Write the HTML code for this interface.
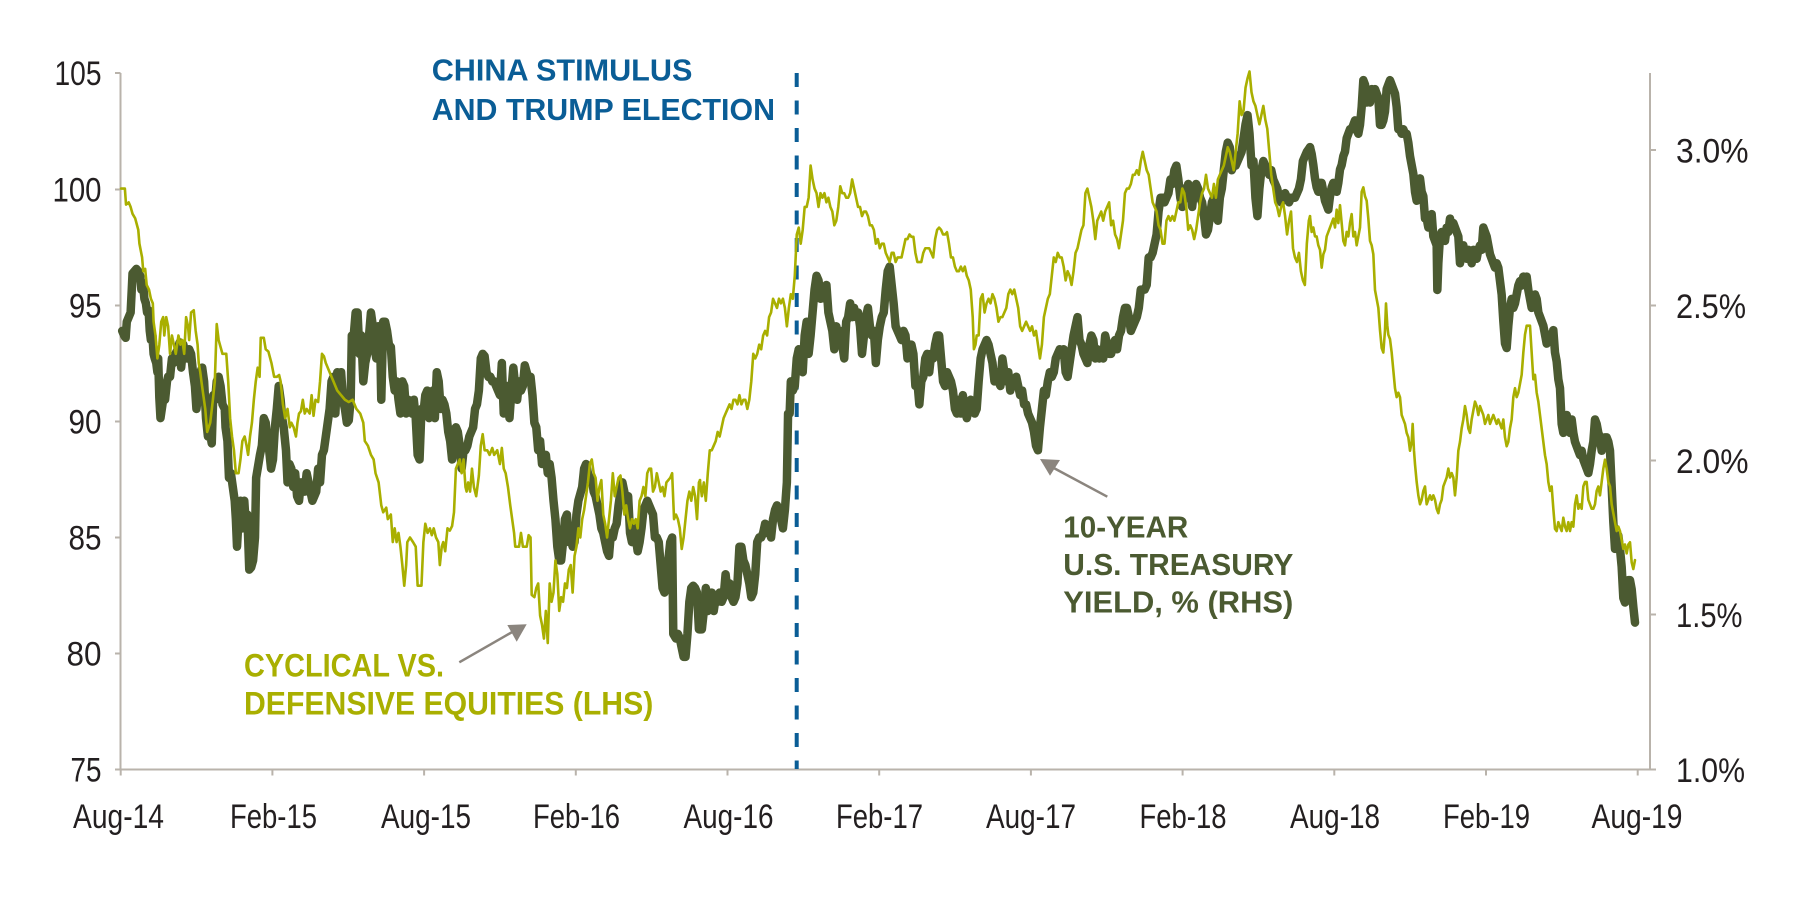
<!DOCTYPE html>
<html>
<head>
<meta charset="utf-8">
<style>
  html,body{margin:0;padding:0;background:#fff;}
  svg{display:block;}
  .tick{font-family:"Liberation Sans",sans-serif;font-size:34px;fill:#231f20;}
  .ann{font-family:"Liberation Sans",sans-serif;font-weight:bold;font-size:31px;}
  .yl{fill:none;stroke:#a9af00;stroke-width:2.6;stroke-linejoin:round;stroke-linecap:round;}
  .dk{fill:none;stroke:#4b5a31;stroke-width:8.5;stroke-linejoin:round;stroke-linecap:round;}
</style>
</head>
<body>
<svg width="1800" height="900" viewBox="0 0 1800 900" xmlns="http://www.w3.org/2000/svg">
  <rect x="0" y="0" width="1800" height="900" fill="#fff"/>

  <!-- axes -->
  <g stroke="#b9b3ab" stroke-width="2" fill="none">
    <line x1="120.5" y1="73" x2="120.5" y2="770"/>
    <line x1="1650" y1="73" x2="1650" y2="770"/>
    <line x1="120" y1="769.5" x2="1650" y2="769.5"/>
    <!-- left ticks -->
    <line x1="115" y1="73" x2="120.5" y2="73"/>
    <line x1="115" y1="189.5" x2="120.5" y2="189.5"/>
    <line x1="115" y1="305.5" x2="120.5" y2="305.5"/>
    <line x1="115" y1="421.5" x2="120.5" y2="421.5"/>
    <line x1="115" y1="537.5" x2="120.5" y2="537.5"/>
    <line x1="115" y1="653.5" x2="120.5" y2="653.5"/>
    <line x1="115" y1="769.5" x2="120.5" y2="769.5"/>
    <!-- right ticks -->
    <line x1="1650" y1="150" x2="1656" y2="150"/>
    <line x1="1650" y1="305.5" x2="1656" y2="305.5"/>
    <line x1="1650" y1="460.5" x2="1656" y2="460.5"/>
    <line x1="1650" y1="614.5" x2="1656" y2="614.5"/>
    <line x1="1650" y1="769.5" x2="1656" y2="769.5"/>
    <!-- bottom ticks -->
    <line x1="120.7" y1="769.5" x2="120.7" y2="775.5"/>
    <line x1="272.4" y1="769.5" x2="272.4" y2="775.5"/>
    <line x1="424.1" y1="769.5" x2="424.1" y2="775.5"/>
    <line x1="575.8" y1="769.5" x2="575.8" y2="775.5"/>
    <line x1="727.5" y1="769.5" x2="727.5" y2="775.5"/>
    <line x1="879.2" y1="769.5" x2="879.2" y2="775.5"/>
    <line x1="1030.9" y1="769.5" x2="1030.9" y2="775.5"/>
    <line x1="1182.6" y1="769.5" x2="1182.6" y2="775.5"/>
    <line x1="1334.3" y1="769.5" x2="1334.3" y2="775.5"/>
    <line x1="1486" y1="769.5" x2="1486" y2="775.5"/>
    <line x1="1637.7" y1="769.5" x2="1637.7" y2="775.5"/>
  </g>

  <!-- left labels -->
  <g class="tick" text-anchor="end">
    <text x="101.5" y="85" textLength="47" lengthAdjust="spacingAndGlyphs">105</text>
    <text x="101.5" y="201.5" textLength="49" lengthAdjust="spacingAndGlyphs">100</text>
    <text x="101.5" y="317.5" textLength="32.5" lengthAdjust="spacingAndGlyphs">95</text>
    <text x="101.5" y="433.5" textLength="33" lengthAdjust="spacingAndGlyphs">90</text>
    <text x="101.5" y="549.5" textLength="33" lengthAdjust="spacingAndGlyphs">85</text>
    <text x="101.5" y="665.5" textLength="35" lengthAdjust="spacingAndGlyphs">80</text>
    <text x="101.5" y="781.5" textLength="31" lengthAdjust="spacingAndGlyphs">75</text>
  </g>

  <!-- right labels -->
  <g class="tick">
    <text x="1676" y="162.5" textLength="72.5" lengthAdjust="spacingAndGlyphs">3.0%</text>
    <text x="1676" y="318" textLength="70" lengthAdjust="spacingAndGlyphs">2.5%</text>
    <text x="1676" y="473" textLength="72.5" lengthAdjust="spacingAndGlyphs">2.0%</text>
    <text x="1676" y="627" textLength="66.5" lengthAdjust="spacingAndGlyphs">1.5%</text>
    <text x="1676" y="782" textLength="69" lengthAdjust="spacingAndGlyphs">1.0%</text>
  </g>

  <!-- x labels -->
  <g class="tick" text-anchor="middle">
    <text x="118.5" y="828" textLength="91" lengthAdjust="spacingAndGlyphs">Aug-14</text>
    <text x="273.5" y="828" textLength="87" lengthAdjust="spacingAndGlyphs">Feb-15</text>
    <text x="426" y="828" textLength="90" lengthAdjust="spacingAndGlyphs">Aug-15</text>
    <text x="576.5" y="828" textLength="87" lengthAdjust="spacingAndGlyphs">Feb-16</text>
    <text x="728.5" y="828" textLength="90" lengthAdjust="spacingAndGlyphs">Aug-16</text>
    <text x="879.5" y="828" textLength="87" lengthAdjust="spacingAndGlyphs">Feb-17</text>
    <text x="1031" y="828" textLength="90" lengthAdjust="spacingAndGlyphs">Aug-17</text>
    <text x="1183" y="828" textLength="87" lengthAdjust="spacingAndGlyphs">Feb-18</text>
    <text x="1335" y="828" textLength="90" lengthAdjust="spacingAndGlyphs">Aug-18</text>
    <text x="1486.5" y="828" textLength="87" lengthAdjust="spacingAndGlyphs">Feb-19</text>
    <text x="1637" y="828" textLength="91" lengthAdjust="spacingAndGlyphs">Aug-19</text>
  </g>

  <!-- dashed event line -->
  <line x1="796.7" y1="73" x2="796.7" y2="769" stroke="#0a5d96" stroke-width="4" stroke-dasharray="14 13.5"/>

  <!-- Treasury (dark) -->
  <g transform="translate(100 60) scale(0.38270 0.45914)">
    <polyline class="dk" vector-effect="non-scaling-stroke" points="58,590 63,600 67,605 70,570 75,560 80,550 83,500 85,465 90,460 95,455 100,460 105,470 108,500 112,485 116,520 120,530 123,550 127,545 130,590 133,610 137,600 140,640 143,650 147,660 150,680 152,650 155,735 158,780 165,740 170,740 175,700 178,690 183,690 188,650 192,660 197,640 203,630 208,615 212,670 218,620 222,640 228,650 233,630 238,640 243,680 248,710 252,760 257,720 262,680 267,670 272,700 277,780 282,820 287,810 292,835 296,730 301,740 305,700 310,690 315,710 320,750 326,760 328,800 333,830 337,910 342,900 347,930 352,960 355,1000 358,1060 362,1000 367,960 372,1020 377,960 380,1000 385,990 390,1110 395,1105 400,1090 405,1040 408,910 412,890 418,860 423,840 428,780 433,790 437,830 442,850 447,890 452,870 457,800 462,760 467,710 472,740 476,780 480,800 486,850 490,920 495,880 500,890 505,930 510,900 515,950 520,960 525,920 530,935 535,940 540,900 545,920 550,940 555,960 560,950 565,940 570,890 575,920 580,860 585,850 590,820 595,790 600,760 605,700 610,690 615,770 620,680 625,700 630,680 635,740 640,760 645,790 650,785 655,740 658,600 663,600 668,550 673,550 678,640 683,600 688,700 693,660 698,640 703,600 708,550 713,580 718,630 722,650 727,580 732,610 735,740 740,570 745,570 750,590 755,620 760,625 765,690 770,720 775,700 780,740 785,770 790,700 795,710 800,770 805,740 810,760 815,770 820,740 825,780 830,860 835,870 840,760 845,770 850,730 855,720 860,780 865,740 870,720 875,780 880,680 885,700 890,760 895,740 900,750 905,770 910,810 915,830 920,870 925,840 930,800 935,810 940,840 945,890 950,850 955,850 960,840 965,820 970,810 975,800 980,760 985,750 990,720 995,650 1000,640 1005,645 1010,680 1015,690 1020,690 1025,700 1030,700 1035,710 1040,720 1045,730 1050,660 1055,770 1060,720 1065,710 1070,780 1075,720 1080,670 1085,710 1090,740 1095,700 1100,720 1105,710 1110,665 1115,680 1120,700 1125,690 1130,730 1135,790 1140,800 1145,850 1150,830 1155,880 1160,860 1165,860 1170,900 1175,880 1180,910 1185,960 1190,1000 1195,1060 1200,1090 1205,1090 1210,1050 1215,1000 1220,990 1225,1050 1230,1040 1235,1060 1240,1050 1245,990 1250,960 1255,945 1260,930 1265,890 1270,880 1275,900 1280,920 1285,910 1290,940 1295,950 1300,970 1305,990 1310,1020 1315,1030 1320,1050 1325,1070 1330,1080 1335,1030 1340,1040 1345,1020 1350,1010 1355,970 1360,940 1365,920 1370,940 1375,960 1380,950 1385,1030 1390,1050 1395,1010 1400,1040 1405,1070 1410,1050 1415,1020 1420,980 1425,970 1430,960 1435,970 1440,980 1445,990 1450,1040 1455,1040 1460,1050 1465,1100 1470,1150 1475,1160 1480,1120 1485,1090 1490,1050 1495,1040 1498,1250 1505,1260 1510,1250 1515,1260 1520,1280 1525,1300 1530,1300 1535,1250 1540,1180 1545,1150 1550,1145 1555,1150 1560,1160 1565,1240 1568,1240"/>
  </g>
  <g transform="translate(690 60) scale(0.39541 0.45914)">
    <polyline class="dk" vector-effect="non-scaling-stroke" points="25,1240 30,1240 35,1200 40,1150 45,1200 50,1180 55,1160 60,1200 65,1170 70,1180 75,1160 80,1180 85,1170 90,1120 95,1160 100,1140 105,1170 110,1180 115,1170 120,1140 125,1060 130,1060 135,1090 140,1100 145,1120 150,1140 155,1170 160,1160 165,1120 170,1050 175,1040 180,1040 185,1030 190,1010 195,1030 200,1020 205,1040 210,1000 215,980 220,970 225,990 230,1000 235,1020 240,980 245,920 248,770 252,770 255,700 260,720 265,710 270,650 275,630 280,640 285,680 290,600 295,570 300,640 305,600 310,550 315,500 320,470 325,480 330,520 335,500 340,500 345,490 350,550 355,570 360,590 365,630 370,580 375,610 380,590 385,620 390,650 395,570 400,560 405,530 410,560 415,540 420,560 425,550 430,580 435,640 440,600 445,560 450,540 455,580 460,600 465,590 470,660 475,610 480,580 485,560 490,550 495,500 500,460 505,450 510,490 515,530 520,580 525,590 530,600 535,610 540,590 545,600 550,650 555,620 560,620 565,640 570,710 575,700 580,750 585,700 590,690 595,650 600,640 605,680 610,640 615,650 620,620 625,600 630,600 635,650 640,700 645,710 650,680 655,690 660,700 665,720 670,760 675,770 680,740 685,770 690,730 695,760 700,780 705,760 710,740 715,750 720,770 725,760 730,700 735,650 740,630 745,620 750,610 755,620 760,640 765,660 770,700 775,680 780,700 785,710 790,650 795,680 800,700 805,680 810,720 815,700 820,700 825,690 830,710 835,730 840,720 845,750 850,750 855,770 860,780 865,790 870,810 875,840 880,850 885,800 890,760 895,720 900,730 905,700 910,680 915,690 920,680 925,650 930,640 935,630 940,640 945,630 950,680 955,690 960,660 965,630 970,600 975,580 980,560 985,610 990,620 995,640 1000,650 1005,660 1010,620 1015,600 1020,610 1025,650 1030,630 1035,650 1040,640 1045,650 1050,600 1055,620 1060,640 1065,640 1070,620 1075,610 1080,630 1085,600 1090,590 1095,560 1100,540 1105,540 1110,560 1115,590 1120,580 1125,570 1130,560 1135,540 1140,500 1145,500 1150,500 1155,490 1160,430 1165,430 1170,420 1175,400 1180,380 1185,330 1190,300 1195,300 1200,310 1205,300 1210,290 1215,260 1220,270 1225,240 1230,230 1235,260 1240,300 1245,320 1250,280 1255,300 1260,270 1265,290 1270,320 1275,280 1280,270 1285,280 1290,300 1295,310 1300,340 1305,380 1310,370 1315,340 1320,310 1325,300 1330,340 1335,350 1340,300 1345,280 1350,240 1355,200 1360,180 1365,190 1370,240 1375,230 1380,230 1385,220 1390,210 1395,200 1400,170 1405,140 1410,120 1415,160 1420,230 1425,220 1430,300 1435,340 1440,280 1445,240 1450,220 1455,230 1460,240 1465,250 1470,240 1475,260 1480,270 1485,280 1490,300 1495,310 1500,300 1505,290 1510,300 1515,310 1520,300 1525,300 1530,300 1535,290 1540,280 1545,260 1550,220 1555,210 1560,200 1568,190"/>
  </g>
  <g transform="translate(1300 40) scale(0.33333 0.44643)">
    <polyline class="dk" vector-effect="non-scaling-stroke" points="30,240 35,255 40,280 45,310 50,330 55,340 60,320 65,320 70,340 75,360 80,370 85,380 90,350 95,330 100,320 105,330 110,340 115,320 120,290 125,280 130,260 135,250 140,220 145,210 150,200 155,200 160,190 165,180 170,200 175,210 180,190 185,150 190,90 195,100 200,140 205,130 210,140 215,110 220,120 225,110 230,120 235,130 240,190 245,190 250,180 255,160 260,110 265,100 270,90 275,100 280,110 285,120 290,150 295,200 300,200 305,210 310,200 315,210 320,210 325,230 330,260 335,280 340,300 345,340 350,360 355,330 360,310 365,340 370,350 375,400 380,400 385,420 390,400 395,390 400,440 405,450 410,460 412,560 415,500 420,440 425,430 430,440 435,450 440,420 445,430 450,400 455,420 460,410 465,420 470,430 475,440 480,500 485,480 490,460 495,480 500,490 505,470 510,480 515,500 520,470 525,480 530,490 535,470 540,460 545,470 550,420 555,430 560,440 565,460 570,480 575,490 580,500 585,510 590,500 595,510 600,540 605,570 610,630 615,680 620,690 625,640 630,600 635,580 640,600 645,590 650,570 655,550 660,540 665,550 670,530 675,540 680,530 685,560 690,580 695,600 700,590 705,570 710,580 715,610 720,620 725,630 730,640 735,660 740,680 745,660 750,660 755,670 760,650 765,700 770,720 775,760 780,780 785,860 790,880 795,860 800,840 805,860 810,880 815,850 820,880 825,900 830,910 835,920 840,930 845,920 850,940 855,950 860,960 865,970 870,950 875,920 880,900 885,850 890,860 895,880 900,890 905,920 910,900 915,890 920,890 925,900 930,920 935,1000 940,1080 945,1140 950,1130 955,1110 960,1140 965,1180 970,1250 975,1260 980,1240 985,1210 990,1210 995,1230 1000,1270 1005,1305"/>
  </g>

  <!-- Cyclical vs defensive (yellow) -->
  <g transform="translate(100 60) scale(0.38270 0.45914)">
    <polyline class="yl" vector-effect="non-scaling-stroke" points="55,280 65,280 68,315 75,310 80,320 85,335 92,345 100,370 103,400 110,430 113,460 118,455 122,490 128,500 133,520 138,530 140,570 145,600 150,650 155,620 160,570 165,560 168,600 173,560 178,580 183,640 188,600 193,620 198,640 205,600 210,620 215,610 220,640 225,560 230,580 233,610 238,550 245,545 250,590 255,620 258,660 262,680 265,700 270,730 275,760 280,810 288,790 295,740 300,700 305,575 310,610 320,640 330,640 335,700 340,780 345,820 350,850 355,900 362,900 367,870 372,830 378,820 383,840 387,860 392,820 397,790 402,740 407,700 412,670 417,690 420,605 428,605 433,630 440,635 448,660 455,690 462,690 468,686 472,700 478,750 484,780 490,760 496,800 500,790 506,800 512,820 516,790 520,770 525,765 530,740 535,770 540,760 548,770 553,730 558,775 563,740 570,745 575,700 580,640 585,645 590,660 595,670 600,680 610,700 620,720 630,730 640,740 650,745 660,740 670,760 680,770 688,790 692,830 700,840 708,860 715,870 720,900 728,920 735,970 740,985 748,975 752,1000 760,990 765,1050 770,1020 775,1050 780,1030 785,1060 790,1100 795,1145 800,1100 803,1050 810,1040 818,1050 825,1060 830,1145 840,1145 845,1050 850,1010 856,1030 862,1020 867,1035 872,1020 878,1040 884,1050 888,1100 893,1060 897,1050 902,1070 908,1020 914,1025 920,1015 925,985 930,890 935,880 940,870 945,900 950,870 955,930 958,940 962,920 967,940 972,890 977,930 983,950 990,905 995,840 1000,815 1005,850 1012,850 1018,860 1025,845 1030,860 1038,850 1045,880 1050,845 1055,890 1060,900 1066,930 1072,970 1077,1000 1082,1030 1085,1060 1095,1060 1100,1030 1105,1060 1115,1060 1120,1035 1125,1040 1128,1165 1135,1170 1140,1150 1145,1140 1150,1210 1155,1230 1160,1260 1165,1200 1170,1270 1175,1140 1180,1180 1185,1160 1190,1090 1195,1120 1200,1200 1205,1170 1210,1180 1215,1140 1220,1150 1225,1110 1230,1100 1235,1160 1240,1080 1245,1060 1250,1020 1255,1040 1260,1000 1265,980 1270,950 1275,920 1280,880 1285,870 1290,900 1295,910 1300,960 1305,930 1310,915 1315,990 1320,1010 1325,1040 1330,1000 1335,960 1340,900 1345,950 1350,930 1355,910 1360,905 1365,940 1370,990 1375,970 1380,1000 1385,1020 1390,1000 1395,1010 1400,1000 1405,1020 1410,960 1415,950 1420,930 1425,950 1430,900 1435,890 1440,890 1445,940 1450,930 1455,900 1460,920 1465,940 1470,930 1475,950 1480,920 1490,910 1495,900 1500,1000 1505,990 1510,1000 1515,1020 1520,1065 1525,1040 1530,1000 1535,960 1540,940 1545,960 1550,930 1555,950 1560,1000 1565,920 1568,915"/>
  </g>
  <g transform="translate(690 60) scale(0.39541 0.45914)">
    <polyline class="yl" vector-effect="non-scaling-stroke" points="25,915 30,950 35,920 40,960 45,900 50,850 55,850 60,840 65,830 70,810 75,820 80,800 85,780 90,770 95,760 100,750 105,760 110,740 115,740 120,750 125,730 130,750 135,740 140,740 145,760 150,740 155,700 160,640 165,650 170,640 175,620 180,630 185,600 190,590 195,600 200,560 205,550 210,520 215,530 220,540 225,520 230,530 235,520 240,540 245,580 250,540 255,510 260,520 265,470 270,380 275,365 280,400 285,370 290,320 295,320 300,300 305,230 310,260 315,280 320,290 325,320 330,290 335,300 340,290 345,310 350,300 355,320 360,330 365,360 370,350 375,320 380,275 385,290 390,290 395,300 400,300 405,290 410,260 415,280 420,300 425,320 430,320 435,340 440,330 445,330 450,340 455,360 460,360 465,370 470,400 475,390 480,410 485,400 490,400 495,420 500,430 505,440 510,420 515,420 520,440 525,430 530,430 535,430 540,410 545,390 550,390 555,380 560,385 565,385 570,420 575,440 580,440 585,440 590,420 595,410 600,410 605,410 610,420 615,430 620,390 625,370 630,365 635,370 640,380 645,380 650,375 655,400 660,430 665,430 670,450 675,460 680,460 685,450 690,460 695,450 700,470 705,480 710,500 715,560 718,630 722,620 725,600 730,600 735,520 740,510 745,550 750,530 755,520 760,530 765,510 770,520 775,540 780,570 785,560 790,560 795,550 800,540 805,510 810,500 815,510 820,500 825,520 830,540 835,580 840,590 845,580 850,570 855,580 860,590 865,580 870,600 875,590 880,620 885,650 890,620 895,560 900,540 905,520 910,510 915,470 920,430 925,440 930,420 935,430 940,430 945,450 950,480 955,460 960,470 965,490 970,460 975,420 980,410 985,390 990,370 995,360 1000,290 1005,280 1010,300 1015,320 1020,350 1025,390 1030,350 1035,340 1040,330 1045,350 1050,330 1055,320 1060,310 1065,360 1070,350 1075,380 1080,390 1085,410 1090,380 1095,350 1100,290 1105,280 1110,280 1115,270 1120,250 1125,250 1130,240 1135,250 1140,220 1145,200 1150,220 1155,240 1160,250 1165,280 1170,310 1175,320 1180,330 1185,360 1190,370 1195,400 1200,400 1205,350 1210,340 1215,350 1220,340 1225,350 1230,330 1235,310 1240,310 1245,280 1250,290 1255,320 1260,370 1265,360 1270,370 1275,390 1280,370 1285,340 1290,310 1295,290 1300,280 1305,250 1310,280 1315,290 1320,300 1325,270 1330,300 1335,260 1340,250 1345,240 1350,230 1355,210 1360,190 1365,200 1370,220 1375,240 1380,200 1385,160 1390,90 1395,120 1400,110 1405,60 1410,40 1415,25 1420,70 1425,90 1430,100 1435,120 1440,140 1445,120 1450,100 1455,130 1460,150 1465,200 1470,250 1475,280 1480,310 1485,320 1490,340 1495,320 1500,310 1505,340 1510,380 1515,350 1520,330 1525,410 1530,430 1535,440 1540,420 1545,460 1550,480 1555,490 1560,400 1565,350 1568,340"/>
  </g>
  <g transform="translate(1300 40) scale(0.33333 0.44643)">
    <polyline class="yl" vector-effect="non-scaling-stroke" points="30,395 35,430 40,420 45,440 50,440 55,460 60,470 65,510 70,480 75,470 80,440 85,430 90,420 95,410 100,400 105,420 110,380 115,410 120,370 125,410 130,450 135,460 140,430 145,440 150,410 155,390 160,440 165,430 170,460 175,440 180,420 185,340 190,330 195,350 200,360 205,400 210,450 215,460 220,480 225,560 230,580 235,600 240,650 245,690 250,700 255,650 258,590 262,640 265,660 270,670 275,700 280,740 285,780 290,800 295,790 300,800 305,840 310,850 315,860 320,880 325,890 330,920 335,900 338,860 342,920 345,950 350,990 355,1020 360,1040 365,1030 370,1010 375,1000 380,1040 385,1030 390,1020 395,1030 400,1020 405,1030 410,1050 415,1060 420,1040 425,1030 430,1000 435,990 440,980 445,960 450,980 455,970 460,980 465,1020 470,980 475,920 480,900 485,870 490,850 495,820 500,840 505,870 510,880 515,850 520,830 525,810 530,820 535,840 540,820 545,830 550,840 555,860 560,850 565,840 570,860 575,850 580,840 585,850 590,860 595,850 600,860 605,870 610,850 615,890 620,910 625,900 630,870 635,850 640,800 645,780 650,800 655,790 660,770 665,750 670,700 675,660 680,640 685,640 690,640 695,700 700,760 705,750 710,790 715,810 720,840 725,870 730,900 735,930 740,950 745,990 750,1010 755,1000 760,1050 765,1095 770,1100 775,1080 780,1090 785,1100 790,1070 795,1090 800,1100 805,1080 810,1100 815,1080 820,1090 825,1040 830,1020 835,1050 840,1040 845,1050 850,1000 855,990 860,990 865,1030 870,1040 875,1050 880,1050 885,1040 890,1010 895,1000 900,1020 905,990 910,960 915,940 920,960 925,990 930,1000 935,1040 940,1060 945,1080 950,1100 955,1090 960,1100 965,1120 970,1140 975,1130 980,1150 985,1130 990,1125 995,1170 1000,1185 1005,1165"/>
  </g>

  <!-- annotation: event -->
  <g class="ann" fill="#0a5d96">
    <text x="431.7" y="80.7" textLength="260.7" lengthAdjust="spacingAndGlyphs">CHINA STIMULUS</text>
    <text x="431.7" y="120" textLength="343.3" lengthAdjust="spacingAndGlyphs">AND TRUMP ELECTION</text>
  </g>

  <!-- annotation: cyclical -->
  <g class="ann" fill="#a9af00" style="font-size:32px">
    <text x="244" y="676.7" textLength="200" lengthAdjust="spacingAndGlyphs">CYCLICAL VS.</text>
    <text x="244" y="714.3" textLength="409.3" lengthAdjust="spacingAndGlyphs">DEFENSIVE EQUITIES (LHS)</text>
  </g>
  <line x1="459.3" y1="662.3" x2="514" y2="631" stroke="#8b857e" stroke-width="2.5"/>
  <polygon points="507.3,625 526.7,624.3 516.7,641.7" fill="#8b857e"/>

  <!-- annotation: treasury -->
  <g class="ann" fill="#4b5a31">
    <text x="1063.3" y="537.3" textLength="125" lengthAdjust="spacingAndGlyphs">10-YEAR</text>
    <text x="1063.3" y="575" textLength="230" lengthAdjust="spacingAndGlyphs">U.S. TREASURY</text>
    <text x="1063.3" y="612.7" textLength="230" lengthAdjust="spacingAndGlyphs">YIELD, % (RHS)</text>
  </g>
  <line x1="1107.3" y1="496.7" x2="1050" y2="466" stroke="#8b857e" stroke-width="2.5"/>
  <polygon points="1040,459 1060,460 1050,475.7" fill="#8b857e"/>
</svg>
</body>
</html>
